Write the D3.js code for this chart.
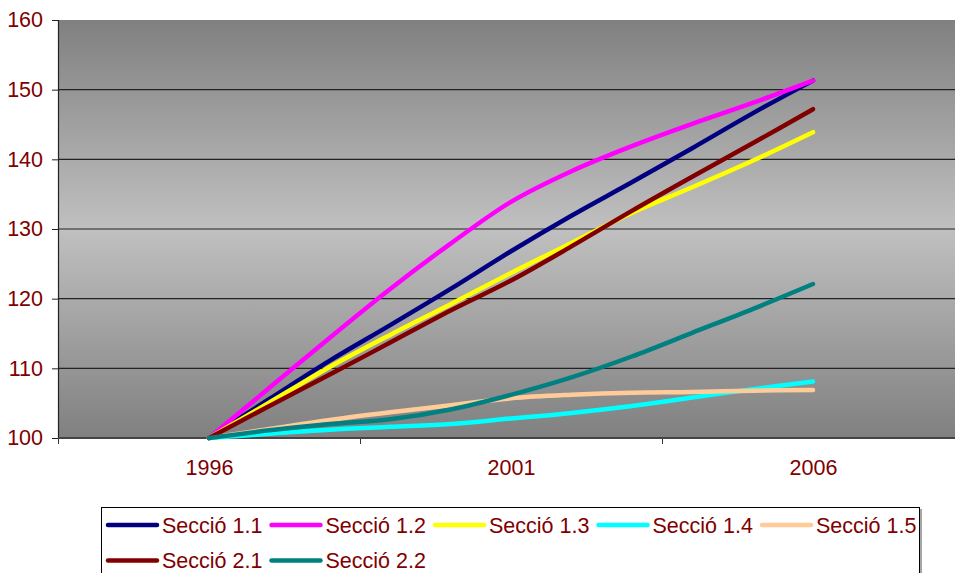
<!DOCTYPE html>
<html>
<head>
<meta charset="utf-8">
<script src="https://cdn.jsdelivr.net/npm/d3@7"></script>
<style>
  html, body { margin: 0; padding: 0; background: #fff; }
  svg { display: block; font-family: "Liberation Sans", Arial, sans-serif; }
</style>
</head>
<body>
<svg id="chart" width="955" height="573"></svg>
<script>
// Index values (1996 = 100) per section
const years = [1996, 1997, 1998, 1999, 2000, 2001, 2002, 2003, 2004, 2005, 2006];
const seccio11 = [100, 105.6, 111.1, 116.2, 121.4, 126.8, 131.9, 136.7, 141.6, 146.6, 151.3];
const seccio12 = [100, 107.2, 114.4, 121.4, 127.9, 133.9, 138.3, 141.9, 145.1, 148.1, 151.3];
const seccio13 = [100, 105.1, 110.2, 114.8, 119.2, 123.7, 128.0, 132.3, 136.0, 139.8, 143.9];
const seccio14 = [100, 100.6, 101.2, 101.6, 102.0, 102.8, 103.6, 104.6, 105.8, 107.0, 108.1];
const seccio15 = [100, 101.3, 102.6, 103.7, 104.7, 105.7, 106.2, 106.5, 106.6, 106.8, 106.9];
const seccio21 = [100, 104.6, 109.1, 113.7, 118.3, 122.6, 127.5, 132.6, 137.5, 142.3, 147.2];
const seccio22 = [100, 101.1, 102.0, 102.7, 104.1, 106.2, 108.7, 111.7, 115.1, 118.5, 122.1];

const seriesNames = ["Secció 1.1", "Secció 1.2", "Secció 1.3", "Secció 1.4", "Secció 1.5", "Secció 2.1", "Secció 2.2"];
const seriesValues = [seccio11, seccio12, seccio13, seccio14, seccio15, seccio21, seccio22];
const seriesColors = ["#000080", "#ff00ff", "#ffff00", "#00ffff", "#ffcc99", "#800000", "#008080"];

const xLabelYears = [1996, 2001, 2006];
const xTickMarks = [1993.5, 1998.5, 2003.5];
const yTicks = [100, 110, 120, 130, 140, 150, 160];

const textColor = "#800000";
const fontSize = 21.5;
const svg = d3.select("#chart");

const plot = { left: 58, top: 20, right: 955, bottom: 438 };

const x = d3.scaleLinear().domain([1993.5, 2008.5]).range([plot.left, plot.left + 15 * 60.4]);
const y = d3.scaleLinear().domain([100, 160]).range([plot.bottom, plot.top]);

// Plot background: grey vertical gradient, dark at the edges, light in the middle
const defs = svg.append("defs");
const grad = defs.append("linearGradient")
  .attr("id", "bg").attr("x1", 0).attr("y1", 0).attr("x2", 0).attr("y2", 1);
grad.append("stop").attr("offset", "0%").attr("stop-color", "#808080");
grad.append("stop").attr("offset", "50%").attr("stop-color", "#c0c0c0");
grad.append("stop").attr("offset", "100%").attr("stop-color", "#808080");

svg.append("rect")
  .attr("x", plot.left).attr("y", plot.top)
  .attr("width", plot.right - plot.left).attr("height", plot.bottom - plot.top)
  .attr("fill", "url(#bg)");

// Horizontal gridlines
svg.append("g")
  .selectAll("line")
  .data(yTicks.filter(d => d > 100 && d < 160))
  .join("line")
  .attr("x1", plot.left).attr("x2", plot.right)
  .attr("y1", d => y(d)).attr("y2", d => y(d))
  .attr("stroke", "#222").attr("stroke-width", 1.2);

// Y axis
const yAxis = svg.append("g")
  .attr("transform", `translate(${plot.left},0)`)
  .call(d3.axisLeft(y).tickValues(yTicks).tickSize(6).tickPadding(9).tickFormat(d3.format("d")));
yAxis.select(".domain").attr("stroke", "#222").attr("stroke-width", 1.2);
yAxis.selectAll(".tick line").attr("stroke", "#222");
yAxis.selectAll("text")
  .attr("fill", textColor).attr("font-size", fontSize)
  .attr("font-family", "Liberation Sans, Arial, sans-serif");

// X axis: tick marks between label groups
const xAxisMarks = svg.append("g")
  .attr("transform", `translate(0,${plot.bottom})`)
  .call(d3.axisBottom(x).tickValues(xTickMarks).tickSize(6).tickFormat(""));
xAxisMarks.select(".domain").remove();
xAxisMarks.selectAll(".tick line").attr("stroke", "#333");

svg.append("line")
  .attr("x1", plot.left).attr("x2", plot.right)
  .attr("y1", plot.bottom).attr("y2", plot.bottom)
  .attr("stroke", "#444").attr("stroke-width", 2);

// X axis labels
const xAxisLabels = svg.append("g")
  .attr("transform", `translate(0,${plot.bottom})`)
  .call(d3.axisBottom(x).tickValues(xLabelYears).tickSize(0).tickPadding(22).tickFormat(d3.format("d")));
xAxisLabels.select(".domain").remove();
xAxisLabels.selectAll("text")
  .attr("fill", textColor).attr("font-size", fontSize)
  .attr("font-family", "Liberation Sans, Arial, sans-serif");

// Series lines
const line = d3.line()
  .x((d, i) => x(years[i]))
  .y(d => y(d))
  .curve(d3.curveCatmullRom.alpha(0.5));

svg.append("g")
  .selectAll("path")
  .data(seriesValues)
  .join("path")
  .attr("d", d => line(d))
  .attr("fill", "none")
  .attr("stroke", (d, i) => seriesColors[i])
  .attr("stroke-width", 4.5)
  .attr("stroke-linecap", "round")
  .attr("stroke-linejoin", "round");

// Legend
const legend = svg.append("g");
legend.append("rect")
  .attr("x", 101.5).attr("y", 507.5)
  .attr("width", 818).attr("height", 72)
  .attr("fill", "#fff").attr("stroke", "#000").attr("stroke-width", 1);
legend.append("line")
  .attr("x1", 921).attr("x2", 921).attr("y1", 509).attr("y2", 573)
  .attr("stroke", "#888").attr("stroke-width", 1.5);

const itemX0 = 108, itemDX = 163.5, rowY = [525, 560.5];
const items = legend.selectAll("g.item")
  .data(seriesNames)
  .join("g")
  .attr("class", "item")
  .attr("transform", (d, i) => `translate(${itemX0 + (i % 5) * itemDX},${rowY[Math.floor(i / 5)]})`);
items.append("line")
  .attr("x1", 0).attr("x2", 49).attr("y1", 0).attr("y2", 0)
  .attr("stroke", (d, i) => seriesColors[i])
  .attr("stroke-width", 4.5)
  .attr("stroke-linecap", "round");
items.append("text")
  .attr("x", 54).attr("y", 0).attr("dy", "0.35em")
  .attr("fill", textColor).attr("font-size", fontSize)
  .text(d => d);
</script>
</body>
</html>
